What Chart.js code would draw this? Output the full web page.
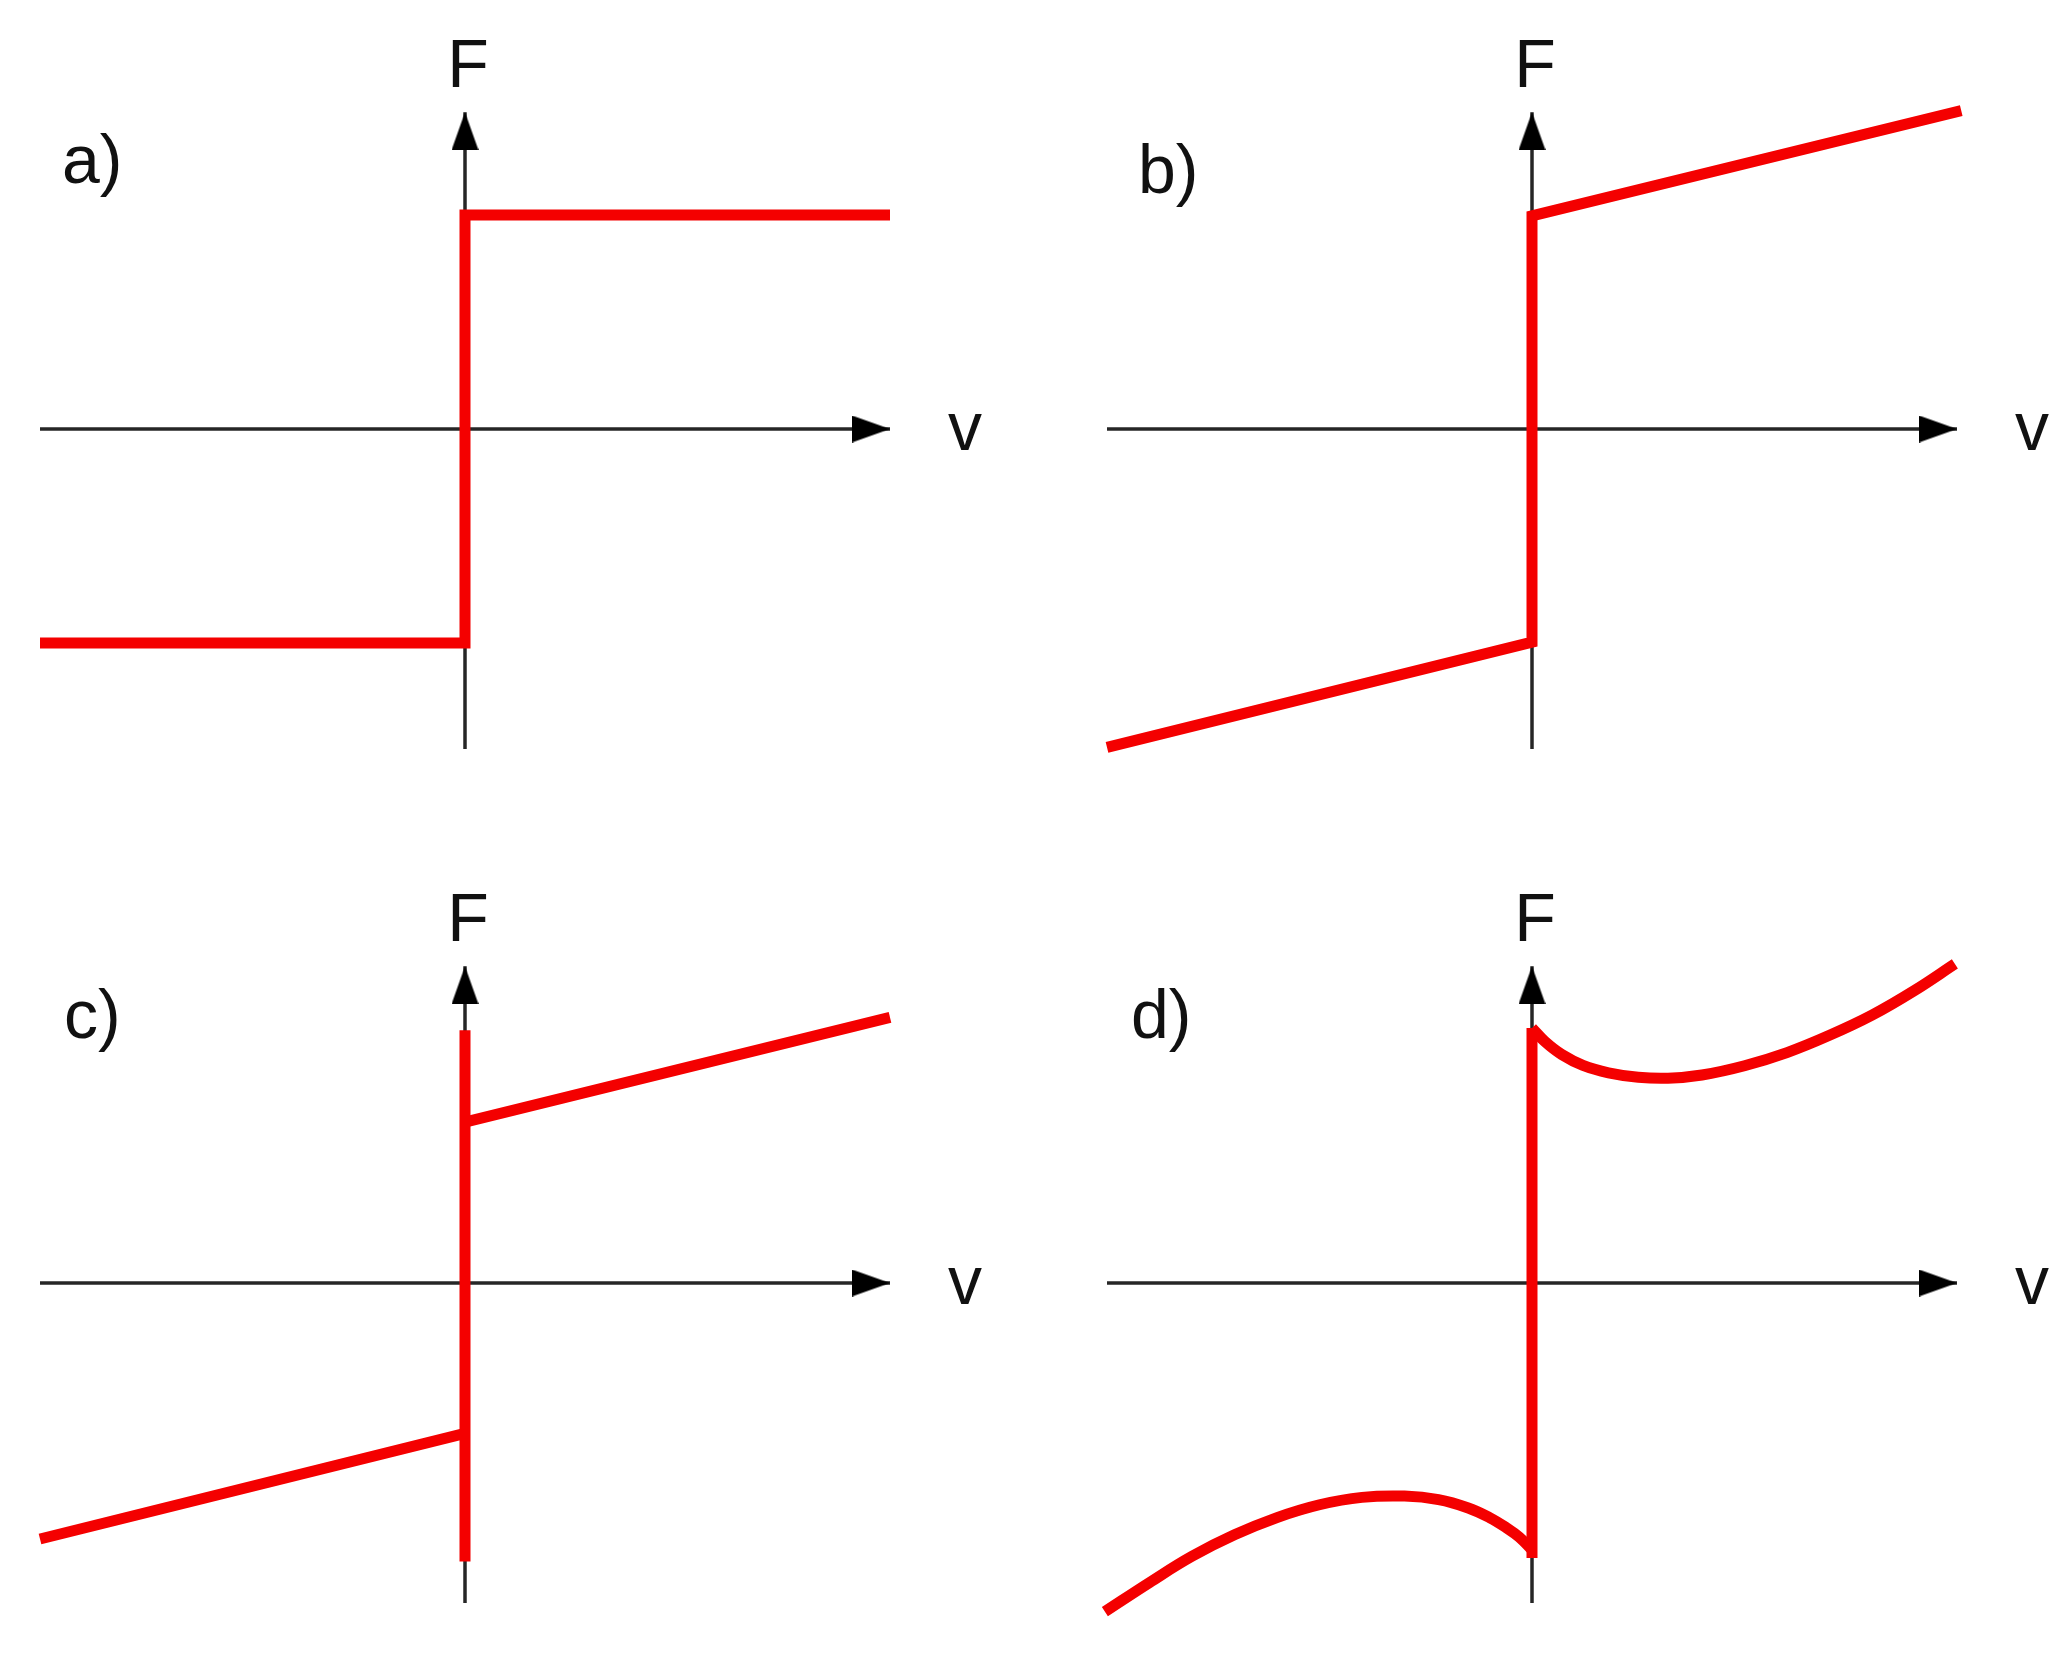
<!DOCTYPE html>
<html>
<head>
<meta charset="utf-8">
<script src="https://cdn.jsdelivr.net/npm/chart.js@4"></script>
<style>
html, body { margin: 0; padding: 0; background: #ffffff; }
#wrap { position: relative; width: 2070px; height: 1655px; overflow: hidden; background: #ffffff; }
#wrap canvas { position: absolute; }
</style>
</head>
<body>
<div id="wrap"></div>
<script>
// ---------------- DATA (units of v and F) ----------------
const panelNames = ['a)', 'b)', 'c)', 'd)'];
const forceLabel = 'F';
const speedLabel = 'v';
const vAxisRange = [-1, 1];
const fAxisRange = [-1, 0.99];

// a) Coulomb friction
const aV = [-1, 0, 0, 1];
const aF = [-0.669, -0.669, 0.669, 0.669];

// b) Coulomb + viscous
const bV = [-1, 0, 0, 1.01];
const bF = [-0.995, -0.666, 0.666, 0.995];

// c) static + Coulomb + viscous
const cLowV = [-1, 0];
const cLowF = [-0.80, -0.47];
const cStickV = [0, 0];
const cStickF = [-0.87, 0.79];
const cUpV = [0, 1.0];
const cUpF = [0.503, 0.83];

// d) Stribeck
const dStickV = [0, 0];
const dStickF = [-0.859, 0.797];
const dUpV = [0, 0.03, 0.07, 0.12, 0.18, 0.25, 0.32, 0.40, 0.50, 0.60, 0.70, 0.80, 0.90, 0.995];
const dUpF = [0.797, 0.755, 0.714, 0.680, 0.657, 0.643, 0.640, 0.650, 0.679, 0.720, 0.774, 0.837, 0.914, 0.997];
const dLowV = [-1.005, -0.9, -0.8, -0.7, -0.6, -0.5, -0.4, -0.3, -0.22, -0.15, -0.1, -0.06, -0.03, 0];
const dLowF = [-1.027, -0.936, -0.854, -0.787, -0.733, -0.693, -0.670, -0.666, -0.677, -0.703, -0.733, -0.765, -0.794, -0.834];

// ---------------- LAYOUT / STYLE ----------------
const UNIT_X = 425, UNIT_Y = 320;
const panelLayout = [
  { rect: [0, 0, 1035, 827],      origin: [465, 429],   labelOff: [-403, -246] },
  { rect: [1035, 0, 1035, 827],   origin: [1532, 429],  labelOff: [-394, -236] },
  { rect: [0, 827, 1035, 828],    origin: [465, 1283],  labelOff: [-401, -245] },
  { rect: [1035, 827, 1035, 828], origin: [1532, 1283], labelOff: [-401, -245] }
];
const RED = '#f40000';
const AXIS = '#262626';
const FONT = '68px "Liberation Sans", Arial, sans-serif';

function pts(vs, fs) { return vs.map((v, i) => ({ x: v, y: fs[i] })); }

// arrow head image: tip at the image centre, pointing right
const ARROW_LEN = 38, ARROW_W = 27;
const arrowImg = document.createElement('canvas');
arrowImg.width = ARROW_LEN * 2;
arrowImg.height = ARROW_W;
(function () {
  const c = arrowImg.getContext('2d');
  c.fillStyle = '#000';
  c.beginPath();
  c.moveTo(0, 0);
  c.lineTo(ARROW_LEN, ARROW_W / 2);
  c.lineTo(0, ARROW_W);
  c.closePath();
  c.fill();
})();

const redSeries = [
  [pts(aV, aF)],
  [pts(bV, bF)],
  [pts(cLowV, cLowF), pts(cStickV, cStickF), pts(cUpV, cUpF)],
  [pts(dLowV, dLowF), pts(dStickV, dStickF), pts(dUpV, dUpF)]
];
const curved = [false, false, false, true];

const labelPlugin = {
  id: 'panelText',
  afterDatasetsDraw(chart, args, opts) {
    const { ctx } = chart;
    const xs = chart.scales.x, ys = chart.scales.y;
    const ox = xs.getPixelForValue(0), oy = ys.getPixelForValue(0);
    const tipY = ys.getPixelForValue(fAxisRange[1]);
    const tipX = xs.getPixelForValue(vAxisRange[1]);
    ctx.save();
    ctx.fillStyle = '#111111';
    ctx.font = FONT;
    ctx.textBaseline = 'alphabetic';
    ctx.textAlign = 'center';
    ctx.fillText(forceLabel, ox + 3, tipY - 25);
    ctx.fillText(speedLabel, tipX + 75, oy + 21);
    ctx.textAlign = 'left';
    ctx.fillText(opts.name, ox + opts.dx, oy + opts.dy);
    ctx.restore();
  }
};

const wrap = document.getElementById('wrap');
panelLayout.forEach((p, i) => {
  const [L, T, W, H] = p.rect;
  const [ox, oy] = p.origin;
  const cv = document.createElement('canvas');
  cv.width = W; cv.height = H;
  cv.style.left = L + 'px'; cv.style.top = T + 'px';
  cv.style.width = W + 'px'; cv.style.height = H + 'px';
  wrap.appendChild(cv);

  const datasets = [];
  redSeries[i].forEach(s => {
    datasets.push({
      data: s, showLine: true, borderColor: RED, backgroundColor: RED,
      borderWidth: 11, pointRadius: 0,
      tension: (curved[i] && s.length > 2) ? 0.4 : 0,
      borderJoinStyle: 'miter', borderCapStyle: 'butt', order: 1, clip: false
    });
  });
  // axes
  datasets.push({
    data: [{ x: vAxisRange[0], y: 0 }, { x: vAxisRange[1], y: 0 }],
    showLine: true, borderColor: AXIS, borderWidth: 3.5, pointRadius: 0, order: 3
  });
  datasets.push({
    data: [{ x: 0, y: fAxisRange[0] }, { x: 0, y: fAxisRange[1] }],
    showLine: true, borderColor: AXIS, borderWidth: 3.5, pointRadius: 0, order: 3
  });
  // arrow heads
  datasets.push({
    data: [{ x: vAxisRange[1], y: 0 }], showLine: false,
    pointStyle: arrowImg, rotation: 0, pointRadius: 5, order: 2
  });
  datasets.push({
    data: [{ x: 0, y: fAxisRange[1] }], showLine: false,
    pointStyle: arrowImg, rotation: -90, pointRadius: 5, order: 2
  });

  new Chart(cv, {
    type: 'scatter',
    data: { datasets },
    plugins: [labelPlugin],
    options: {
      responsive: false,
      animation: false,
      events: [],
      devicePixelRatio: 1,
      layout: { padding: 0, autoPadding: false },
      scales: {
        x: { type: 'linear', display: false, min: (L - ox) / UNIT_X, max: (L + W - ox) / UNIT_X },
        y: { type: 'linear', display: false, min: (oy - (T + H)) / UNIT_Y, max: (oy - T) / UNIT_Y }
      },
      plugins: {
        legend: { display: false },
        tooltip: { enabled: false },
        panelText: { name: panelNames[i], dx: p.labelOff[0], dy: p.labelOff[1] }
      }
    }
  });
});
</script>
</body>
</html>
